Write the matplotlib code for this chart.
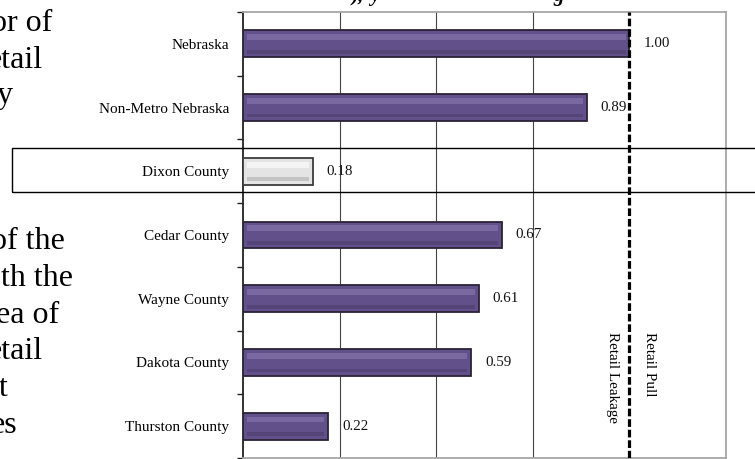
import matplotlib
matplotlib.use("Agg")
import matplotlib.pyplot as plt
import numpy as np
from matplotlib.patches import Rectangle

categories = ["Nebraska", "Non-Metro Nebraska", "Dixon County", "Cedar County",
              "Wayne County", "Dakota County", "Thurston County"]
values = [1.00, 0.89, 0.18, 0.67, 0.61, 0.59, 0.22]
highlight = "Dixon County"
grid_values = [0.25, 0.5, 0.75]
threshold = 1.0
side_labels = ["Retail Leakage", "Retail Pull"]
body_top = ["or of", "etail", "y"]
body_bottom = ["of the", "th the", "ea of", "etail", "t", "es"]

W, H = 755, 459
fig = plt.figure(figsize=(W / 100, H / 100), dpi=100)
ax = fig.add_axes([243 / W, 1 - 458 / H, (726 - 243) / W, (458 - 12) / H])

serif = ["Liberation Serif", "DejaVu Serif"]
y = np.arange(len(categories))
vals = np.array(values)
is_hi = np.array([c == highlight for c in categories])

base_col = np.where(is_hi, "#e4e4e4", "#62508a")
edge_col = np.where(is_hi, "#3c3c3c", "#2b2337")
light_col = np.where(is_hi, "#f4f4f4", "#7a68a0")
dark_col = np.where(is_hi, "#c4c4c4", "#554478")

h = 0.42
ax.barh(y, vals, height=h, color=base_col, edgecolor=edge_col, linewidth=1.3, zorder=3)
inset = 0.01
ax.barh(y - h * 0.25, vals - 2 * inset, left=inset, height=h * 0.22,
        color=light_col, linewidth=0, zorder=4)
ax.barh(y + h * 0.30, vals - 2 * inset, left=inset, height=h * 0.14,
        color=dark_col, linewidth=0, zorder=4)

for yi, v in zip(y, vals):
    ax.text(v + 0.036, yi, f"{v:.2f}", ha="left", va="center",
            fontsize=10.8, family=serif, color="#111111", zorder=6)

ax.set_xlim(0, 1.25)
ax.set_ylim(len(categories) - 0.5, -0.5)

for g in grid_values:
    ax.axvline(g, color="#444444", lw=0.8, zorder=1)
ax.axvline(threshold, color="black", lw=2.3, linestyle=(0, (2.4, 0.9)), zorder=5)

ax.set_yticks(y)
ax.set_yticklabels(categories, family=serif, fontsize=11)
ax.set_yticks(np.arange(len(categories) + 1) - 0.5, minor=True)
ax.tick_params(axis="y", which="major", length=0, pad=10)
ax.tick_params(axis="y", which="minor", length=4, width=1, color="#222222", direction="out")
ax.set_xticks([])

for s in ["top", "right", "bottom"]:
    ax.spines[s].set_color("#a6a6a6")
    ax.spines[s].set_linewidth(1.3)
ax.spines["left"].set_color("#222222")
ax.spines["left"].set_linewidth(1.3)

# side labels (rotated, reading top to bottom)
ax.text((613 - 243) / (726 - 243), (458 - 332) / (458 - 12), side_labels[0],
        transform=ax.transAxes, rotation=270, ha="center", va="top",
        fontsize=10.8, family=serif)
ax.text((649 - 243) / (726 - 243), (458 - 332) / (458 - 12), side_labels[1],
        transform=ax.transAxes, rotation=270, ha="center", va="top",
        fontsize=10.8, family=serif)

# highlight box around Dixon County row
fig.patches.append(Rectangle((12 / W, 1 - 192 / H), 1.2, 44 / H, transform=fig.transFigure,
                             fill=False, edgecolor="black", linewidth=1.0, zorder=10))

# body text cut at the left margin
top_right = [52, 43, 13]
top_y = [20, 57, 92]
for t, xr, yc in zip(body_top, top_right, top_y):
    fig.text(xr / W, 1 - yc / H, t, ha="right", va="center_baseline", fontsize=23, family=serif)
bot_right = [65, 73, 59, 43, 8, 17]
bot_y = [238, 275, 312, 348, 385, 422]
for t, xr, yc in zip(body_bottom, bot_right, bot_y):
    fig.text(xr / W, 1 - yc / H, t, ha="right", va="center_baseline", fontsize=23, family=serif)

# title fragments cut at top edge
for t, xl in [("),", 352), ("y", 370), ("g", 553)]:
    fig.text(xl / W, 1 - 1 / H, t, ha="left", va="baseline", fontsize=15,
             family=serif, weight="bold", style="italic")

fig.savefig("out.png", dpi=100)
